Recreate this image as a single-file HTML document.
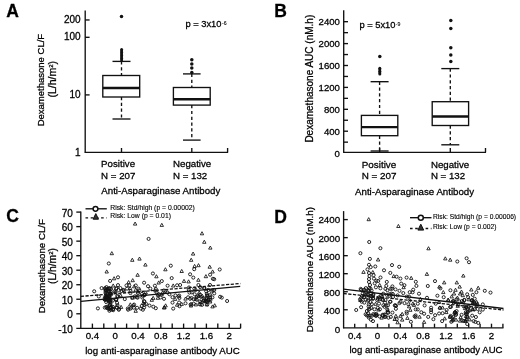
<!DOCTYPE html>
<html><head><meta charset="utf-8"><style>
html,body{margin:0;padding:0;background:#fff;width:520px;height:359px;overflow:hidden}
svg{display:block;will-change:transform}
text{font-family:"Liberation Sans", sans-serif;fill:#000;stroke:#000;stroke-width:0.28px}
</style></head><body>
<svg width="520" height="359" viewBox="0 0 520 359">
<text x="6.2" y="16.5" font-size="17.5" text-anchor="start" font-weight="bold">A</text>
<text x="274.3" y="16.5" font-size="17.5" text-anchor="start" font-weight="bold">B</text>
<text x="6.2" y="221.5" font-size="17.5" text-anchor="start" font-weight="bold">C</text>
<text x="274.3" y="223.4" font-size="17.5" text-anchor="start" font-weight="bold">D</text>
<line x1="85.2" y1="10.4" x2="85.2" y2="152.8" stroke="#111" stroke-width="1.35"/>
<line x1="84.7" y1="152.3" x2="228.1" y2="152.3" stroke="#111" stroke-width="1.35"/>
<line x1="227.6" y1="152.3" x2="227.6" y2="148" stroke="#111" stroke-width="1.35"/>
<text x="80.6" y="155.5" font-size="10" text-anchor="end" font-weight="normal">1</text>
<line x1="85.2" y1="94.9" x2="89.6" y2="94.9" stroke="#111" stroke-width="1.35"/>
<text x="80.6" y="97.9" font-size="10" text-anchor="end" font-weight="normal">10</text>
<line x1="85.2" y1="37.3" x2="89.6" y2="37.3" stroke="#111" stroke-width="1.35"/>
<text x="80.6" y="40.3" font-size="10" text-anchor="end" font-weight="normal">100</text>
<line x1="85.2" y1="19.96067224975468" x2="89.6" y2="19.96067224975468" stroke="#111" stroke-width="1.35"/>
<text x="80.6" y="22.96067224975468" font-size="10" text-anchor="end" font-weight="normal">200</text>
<line x1="121.5" y1="152.3" x2="121.5" y2="148" stroke="#111" stroke-width="1.35"/>
<line x1="191.8" y1="152.3" x2="191.8" y2="148" stroke="#111" stroke-width="1.35"/>
<rect x="102.8" y="75.5" width="36.89999999999999" height="21.5" fill="none" stroke="#111" stroke-width="1.35"/>
<line x1="102.8" y1="88.0" x2="139.7" y2="88.0" stroke="#111" stroke-width="2.4"/>
<line x1="121.5" y1="61.4" x2="121.5" y2="75.5" stroke="#111" stroke-width="1.35" stroke-dasharray="3.2,2.6"/>
<line x1="121.5" y1="97.0" x2="121.5" y2="119.0" stroke="#111" stroke-width="1.35" stroke-dasharray="3.2,2.6"/>
<line x1="112.5" y1="61.4" x2="130.5" y2="61.4" stroke="#111" stroke-width="1.35"/>
<line x1="112.5" y1="119.0" x2="130.5" y2="119.0" stroke="#111" stroke-width="1.35"/>
<circle cx="121.5" cy="16.6" r="1.75" fill="#111"/>
<circle cx="121.6" cy="49.5" r="1.5" fill="#111"/>
<circle cx="121.6" cy="51" r="1.5" fill="#111"/>
<circle cx="121.6" cy="52.5" r="1.5" fill="#111"/>
<circle cx="121.6" cy="54" r="1.5" fill="#111"/>
<circle cx="121.6" cy="55.5" r="1.5" fill="#111"/>
<circle cx="121.6" cy="57" r="1.5" fill="#111"/>
<circle cx="121.6" cy="58.5" r="1.5" fill="#111"/>
<circle cx="121.6" cy="60" r="1.5" fill="#111"/>
<rect x="173.4" y="87.5" width="36.79999999999998" height="17.599999999999994" fill="none" stroke="#111" stroke-width="1.35"/>
<line x1="173.4" y1="99.3" x2="210.2" y2="99.3" stroke="#111" stroke-width="2.4"/>
<line x1="191.8" y1="73.9" x2="191.8" y2="87.5" stroke="#111" stroke-width="1.35" stroke-dasharray="3.2,2.6"/>
<line x1="191.8" y1="105.1" x2="191.8" y2="140.1" stroke="#111" stroke-width="1.35" stroke-dasharray="3.2,2.6"/>
<line x1="183.0" y1="73.9" x2="200.60000000000002" y2="73.9" stroke="#111" stroke-width="1.35"/>
<line x1="183.0" y1="140.1" x2="200.60000000000002" y2="140.1" stroke="#111" stroke-width="1.35"/>
<circle cx="191.8" cy="59.7" r="1.75" fill="#111"/>
<circle cx="191.8" cy="63.9" r="1.75" fill="#111"/>
<circle cx="191.8" cy="68.1" r="1.75" fill="#111"/>
<circle cx="191.8" cy="72.4" r="1.75" fill="#111"/>
<text x="185.4" y="27.4" font-size="9.35" text-anchor="start" font-weight="normal">p = 3x10</text>
<text x="222.0" y="25.0" font-size="5.2" text-anchor="start" font-weight="normal" style="stroke-width:0.1px">-6</text>
<text x="101.1" y="167.2" font-size="9.7" text-anchor="start" font-weight="normal">Positive</text>
<text x="101.1" y="178.7" font-size="9.7" text-anchor="start" font-weight="normal">N = 207</text>
<text x="173.0" y="167.2" font-size="9.7" text-anchor="start" font-weight="normal">Negative</text>
<text x="173.0" y="178.7" font-size="9.7" text-anchor="start" font-weight="normal">N = 132</text>
<text x="160.8" y="194.3" font-size="9.7" text-anchor="middle" font-weight="normal">Anti-Asparaginase Antibody</text>
<text transform="translate(44.3,80.1) rotate(-90)" font-size="9.5" text-anchor="middle">Dexamethasone CL/F</text>
<text transform="translate(56.0,79.3) rotate(-90)" font-size="10.5" text-anchor="middle">(L/h/m<tspan font-size="6" dy="-3.5">2</tspan><tspan dy="3.5">)</tspan></text>
<line x1="343.7" y1="10.2" x2="343.7" y2="152.8" stroke="#111" stroke-width="1.35"/>
<line x1="343.2" y1="152.3" x2="486" y2="152.3" stroke="#111" stroke-width="1.35"/>
<line x1="485.5" y1="152.3" x2="485.5" y2="148" stroke="#111" stroke-width="1.35"/>
<text x="339.9" y="156.5" font-size="9.6" text-anchor="end" font-weight="normal">0</text>
<line x1="343.7" y1="142.15" x2="348" y2="142.15" stroke="#111" stroke-width="1.35"/>
<line x1="343.7" y1="131.2" x2="348" y2="131.2" stroke="#111" stroke-width="1.35"/>
<text x="339.9" y="134.6" font-size="9.6" text-anchor="end" font-weight="normal">400</text>
<line x1="343.7" y1="120.25" x2="348" y2="120.25" stroke="#111" stroke-width="1.35"/>
<line x1="343.7" y1="109.3" x2="348" y2="109.3" stroke="#111" stroke-width="1.35"/>
<text x="339.9" y="112.7" font-size="9.6" text-anchor="end" font-weight="normal">800</text>
<line x1="343.7" y1="98.35" x2="348" y2="98.35" stroke="#111" stroke-width="1.35"/>
<line x1="343.7" y1="87.39999999999999" x2="348" y2="87.39999999999999" stroke="#111" stroke-width="1.35"/>
<text x="339.9" y="90.8" font-size="9.6" text-anchor="end" font-weight="normal">1200</text>
<line x1="343.7" y1="76.45" x2="348" y2="76.45" stroke="#111" stroke-width="1.35"/>
<line x1="343.7" y1="65.5" x2="348" y2="65.5" stroke="#111" stroke-width="1.35"/>
<text x="339.9" y="68.9" font-size="9.6" text-anchor="end" font-weight="normal">1600</text>
<line x1="343.7" y1="54.55" x2="348" y2="54.55" stroke="#111" stroke-width="1.35"/>
<line x1="343.7" y1="43.599999999999994" x2="348" y2="43.599999999999994" stroke="#111" stroke-width="1.35"/>
<text x="339.9" y="46.99999999999999" font-size="9.6" text-anchor="end" font-weight="normal">2000</text>
<line x1="343.7" y1="32.64999999999999" x2="348" y2="32.64999999999999" stroke="#111" stroke-width="1.35"/>
<line x1="343.7" y1="21.69999999999999" x2="348" y2="21.69999999999999" stroke="#111" stroke-width="1.35"/>
<text x="339.9" y="25.099999999999987" font-size="9.6" text-anchor="end" font-weight="normal">2400</text>
<line x1="379.6" y1="152.3" x2="379.6" y2="148" stroke="#111" stroke-width="1.35"/>
<line x1="450.3" y1="152.3" x2="450.3" y2="148" stroke="#111" stroke-width="1.35"/>
<rect x="361.4" y="115.4" width="36.400000000000034" height="20.299999999999983" fill="none" stroke="#111" stroke-width="1.35"/>
<line x1="361.4" y1="127.1" x2="397.8" y2="127.1" stroke="#111" stroke-width="2.4"/>
<line x1="379.6" y1="81.7" x2="379.6" y2="115.4" stroke="#111" stroke-width="1.35" stroke-dasharray="3.2,2.6"/>
<line x1="379.6" y1="135.7" x2="379.6" y2="151.0" stroke="#111" stroke-width="1.35" stroke-dasharray="3.2,2.6"/>
<line x1="370.6" y1="81.7" x2="388.6" y2="81.7" stroke="#111" stroke-width="1.35"/>
<line x1="370.6" y1="151.0" x2="388.6" y2="151.0" stroke="#111" stroke-width="1.35"/>
<circle cx="379.8" cy="56.6" r="1.75" fill="#111"/>
<circle cx="379.8" cy="68.3" r="1.5" fill="#111"/>
<circle cx="379.8" cy="69.8" r="1.5" fill="#111"/>
<circle cx="379.8" cy="71.3" r="1.5" fill="#111"/>
<circle cx="379.8" cy="72.8" r="1.5" fill="#111"/>
<circle cx="379.8" cy="74" r="1.5" fill="#111"/>
<rect x="432.2" y="101.7" width="36.400000000000034" height="23.799999999999997" fill="none" stroke="#111" stroke-width="1.35"/>
<line x1="432.2" y1="116.5" x2="468.6" y2="116.5" stroke="#111" stroke-width="2.4"/>
<line x1="450.3" y1="68.6" x2="450.3" y2="101.7" stroke="#111" stroke-width="1.35" stroke-dasharray="3.2,2.6"/>
<line x1="450.3" y1="125.5" x2="450.3" y2="144.8" stroke="#111" stroke-width="1.35" stroke-dasharray="3.2,2.6"/>
<line x1="441.3" y1="68.6" x2="459.3" y2="68.6" stroke="#111" stroke-width="1.35"/>
<line x1="441.3" y1="144.8" x2="459.3" y2="144.8" stroke="#111" stroke-width="1.35"/>
<circle cx="450.8" cy="20.5" r="1.75" fill="#111"/>
<circle cx="450.8" cy="28.5" r="1.75" fill="#111"/>
<circle cx="450.8" cy="47.8" r="1.75" fill="#111"/>
<circle cx="450.8" cy="55.1" r="1.75" fill="#111"/>
<circle cx="450.8" cy="61.6" r="1.75" fill="#111"/>
<text x="359.4" y="28.0" font-size="9.35" text-anchor="start" font-weight="normal">p = 5x10</text>
<text x="395.7" y="25.6" font-size="5.2" text-anchor="start" font-weight="normal" style="stroke-width:0.1px">-9</text>
<text x="361.7" y="167.6" font-size="9.9" text-anchor="start" font-weight="normal">Positive</text>
<text x="361.7" y="178.9" font-size="9.9" text-anchor="start" font-weight="normal">N = 207</text>
<text x="430.9" y="167.6" font-size="9.7" text-anchor="start" font-weight="normal">Negative</text>
<text x="430.9" y="178.9" font-size="9.7" text-anchor="start" font-weight="normal">N = 132</text>
<text x="414.6" y="194.8" font-size="9.7" text-anchor="middle" font-weight="normal">Anti-Asparaginase Antibody</text>
<text transform="translate(313.3,78.7) rotate(-90)" font-size="10" text-anchor="middle">Dexamethasone AUC (nM.h)</text>
<line x1="80.8" y1="211.6" x2="80.8" y2="328.8" stroke="#111" stroke-width="1.35"/>
<line x1="76.3" y1="328.3" x2="240.6" y2="328.3" stroke="#111" stroke-width="1.35"/>
<line x1="92.4" y1="328.3" x2="92.4" y2="323.6" stroke="#111" stroke-width="1.35"/>
<line x1="103.8" y1="328.3" x2="103.8" y2="323.6" stroke="#111" stroke-width="1.35"/>
<line x1="115.2" y1="328.3" x2="115.2" y2="323.6" stroke="#111" stroke-width="1.35"/>
<line x1="126.60000000000001" y1="328.3" x2="126.60000000000001" y2="323.6" stroke="#111" stroke-width="1.35"/>
<line x1="138.0" y1="328.3" x2="138.0" y2="323.6" stroke="#111" stroke-width="1.35"/>
<line x1="149.4" y1="328.3" x2="149.4" y2="323.6" stroke="#111" stroke-width="1.35"/>
<line x1="160.8" y1="328.3" x2="160.8" y2="323.6" stroke="#111" stroke-width="1.35"/>
<line x1="172.2" y1="328.3" x2="172.2" y2="323.6" stroke="#111" stroke-width="1.35"/>
<line x1="183.60000000000002" y1="328.3" x2="183.60000000000002" y2="323.6" stroke="#111" stroke-width="1.35"/>
<line x1="195.0" y1="328.3" x2="195.0" y2="323.6" stroke="#111" stroke-width="1.35"/>
<line x1="206.4" y1="328.3" x2="206.4" y2="323.6" stroke="#111" stroke-width="1.35"/>
<line x1="217.8" y1="328.3" x2="217.8" y2="323.6" stroke="#111" stroke-width="1.35"/>
<line x1="229.2" y1="328.3" x2="229.2" y2="323.6" stroke="#111" stroke-width="1.35"/>
<line x1="240.60000000000002" y1="328.3" x2="240.60000000000002" y2="323.6" stroke="#111" stroke-width="1.35"/>
<text x="92.4" y="339.3" font-size="9.7" text-anchor="middle" font-weight="normal">0.4</text>
<text x="115.2" y="339.3" font-size="9.7" text-anchor="middle" font-weight="normal">0</text>
<text x="138.0" y="339.3" font-size="9.7" text-anchor="middle" font-weight="normal">0.4</text>
<text x="160.8" y="339.3" font-size="9.7" text-anchor="middle" font-weight="normal">0.8</text>
<text x="183.6" y="339.3" font-size="9.7" text-anchor="middle" font-weight="normal">1.2</text>
<text x="206.4" y="339.3" font-size="9.7" text-anchor="middle" font-weight="normal">1.6</text>
<text x="229.2" y="339.3" font-size="9.7" text-anchor="middle" font-weight="normal">2</text>
<text x="72.8" y="332.58000000000004" font-size="10" text-anchor="end" font-weight="normal">-10</text>
<line x1="76.3" y1="313.775" x2="80.8" y2="313.775" stroke="#111" stroke-width="1.35"/>
<text x="72.8" y="318.07000000000005" font-size="10" text-anchor="end" font-weight="normal">0</text>
<line x1="76.3" y1="299.25" x2="80.8" y2="299.25" stroke="#111" stroke-width="1.35"/>
<text x="72.8" y="303.56000000000006" font-size="10" text-anchor="end" font-weight="normal">10</text>
<line x1="76.3" y1="284.725" x2="80.8" y2="284.725" stroke="#111" stroke-width="1.35"/>
<text x="72.8" y="289.05" font-size="10" text-anchor="end" font-weight="normal">20</text>
<line x1="76.3" y1="270.2" x2="80.8" y2="270.2" stroke="#111" stroke-width="1.35"/>
<text x="72.8" y="274.54" font-size="10" text-anchor="end" font-weight="normal">30</text>
<line x1="76.3" y1="255.67499999999998" x2="80.8" y2="255.67499999999998" stroke="#111" stroke-width="1.35"/>
<text x="72.8" y="260.03000000000003" font-size="10" text-anchor="end" font-weight="normal">40</text>
<line x1="76.3" y1="241.14999999999998" x2="80.8" y2="241.14999999999998" stroke="#111" stroke-width="1.35"/>
<text x="72.8" y="245.52" font-size="10" text-anchor="end" font-weight="normal">50</text>
<line x1="76.3" y1="226.625" x2="80.8" y2="226.625" stroke="#111" stroke-width="1.35"/>
<text x="72.8" y="231.01" font-size="10" text-anchor="end" font-weight="normal">60</text>
<line x1="76.3" y1="212.1" x2="80.8" y2="212.1" stroke="#111" stroke-width="1.35"/>
<text x="72.8" y="216.5" font-size="10" text-anchor="end" font-weight="normal">70</text>
<text x="162.5" y="353.5" font-size="9.7" text-anchor="middle" font-weight="normal">log anti-asparaginase antibody AUC</text>
<text transform="translate(44.7,266.2) rotate(-90)" font-size="9.7" text-anchor="middle">Dexamethasone CL/F</text>
<text transform="translate(56.2,266) rotate(-90)" font-size="10.3" text-anchor="middle">(L/h/m<tspan font-size="6" dy="-3.5">2</tspan><tspan dy="3.5">)</tspan></text>
<path d="M135.1,222.0L136.8,225.1L133.4,225.1Z" fill="none" stroke="#111" stroke-width="0.85"/>
<circle cx="148.6" cy="238.9" r="1.55" fill="none" stroke="#111" stroke-width="0.9"/>
<path d="M111.8,251.6L113.5,254.7L110.1,254.7Z" fill="none" stroke="#111" stroke-width="0.85"/>
<path d="M132.3,258.2L134.0,261.3L130.6,261.3Z" fill="none" stroke="#111" stroke-width="0.85"/>
<path d="M139.5,257.0L141.2,260.1L137.8,260.1Z" fill="none" stroke="#111" stroke-width="0.85"/>
<circle cx="108.8" cy="263.5" r="1.55" fill="none" stroke="#111" stroke-width="0.9"/>
<path d="M145.4,263.0L147.1,266.1L143.7,266.1Z" fill="none" stroke="#111" stroke-width="0.85"/>
<path d="M161.8,223.3L163.5,226.4L160.1,226.4Z" fill="none" stroke="#111" stroke-width="0.85"/>
<path d="M202.0,231.7L203.7,234.8L200.3,234.8Z" fill="none" stroke="#111" stroke-width="0.85"/>
<path d="M204.3,240.2L206.0,243.3L202.6,243.3Z" fill="none" stroke="#111" stroke-width="0.85"/>
<path d="M210.3,246.0L212.0,249.1L208.6,249.1Z" fill="none" stroke="#111" stroke-width="0.85"/>
<path d="M193.1,252.0L194.8,255.1L191.4,255.1Z" fill="none" stroke="#111" stroke-width="0.85"/>
<path d="M191.2,258.2L192.9,261.3L189.5,261.3Z" fill="none" stroke="#111" stroke-width="0.85"/>
<circle cx="170.8" cy="265.7" r="1.55" fill="none" stroke="#111" stroke-width="0.9"/>
<path d="M194.6,264.4L196.3,267.5L192.9,267.5Z" fill="none" stroke="#111" stroke-width="0.85"/>
<path d="M198.5,263.6L200.2,266.7L196.8,266.7Z" fill="none" stroke="#111" stroke-width="0.85"/>
<path d="M209.7,265.1L211.4,268.2L208.0,268.2Z" fill="none" stroke="#111" stroke-width="0.85"/>
<circle cx="219.7" cy="269.5" r="1.55" fill="none" stroke="#111" stroke-width="0.9"/>
<path d="M165.4,267.7L167.1,270.8L163.7,270.8Z" fill="none" stroke="#111" stroke-width="0.85"/>
<path d="M106.7,269.9L108.4,273.0L105.0,273.0Z" fill="none" stroke="#111" stroke-width="0.85"/>
<path d="M114.1,276.7L115.8,279.8L112.4,279.8Z" fill="none" stroke="#111" stroke-width="0.85"/>
<circle cx="118.0" cy="277.3" r="1.55" fill="none" stroke="#111" stroke-width="0.9"/>
<circle cx="110.1" cy="280.9" r="1.55" fill="none" stroke="#111" stroke-width="0.9"/>
<path d="M128.6,280.5L130.3,283.6L126.9,283.6Z" fill="none" stroke="#111" stroke-width="0.85"/>
<path d="M113.2,283.9L114.9,287.0L111.5,287.0Z" fill="none" stroke="#111" stroke-width="0.85"/>
<circle cx="101.6" cy="288.1" r="1.55" fill="none" stroke="#111" stroke-width="0.9"/>
<circle cx="94.2" cy="291.3" r="1.55" fill="none" stroke="#111" stroke-width="0.9"/>
<circle cx="108.8" cy="288.6" r="1.55" fill="none" stroke="#111" stroke-width="0.9"/>
<circle cx="120.4" cy="288.1" r="1.55" fill="none" stroke="#111" stroke-width="0.9"/>
<circle cx="127.1" cy="288.6" r="1.55" fill="none" stroke="#111" stroke-width="0.9"/>
<circle cx="98.8" cy="296.5" r="1.55" fill="none" stroke="#111" stroke-width="0.9"/>
<circle cx="97.9" cy="308.4" r="1.55" fill="none" stroke="#111" stroke-width="0.9"/>
<circle cx="113.2" cy="308.8" r="1.55" fill="none" stroke="#111" stroke-width="0.9"/>
<circle cx="194.2" cy="269.2" r="1.55" fill="none" stroke="#111" stroke-width="0.9"/>
<path d="M212.6,269.9L214.3,273.0L210.9,273.0Z" fill="none" stroke="#111" stroke-width="0.85"/>
<circle cx="210.1" cy="274.7" r="1.55" fill="none" stroke="#111" stroke-width="0.9"/>
<path d="M205.9,274.6L207.6,277.7L204.2,277.7Z" fill="none" stroke="#111" stroke-width="0.85"/>
<circle cx="193.3" cy="277.6" r="1.55" fill="none" stroke="#111" stroke-width="0.9"/>
<circle cx="214.2" cy="279.2" r="1.55" fill="none" stroke="#111" stroke-width="0.9"/>
<path d="M198.4,278.2L200.1,281.3L196.7,281.3Z" fill="none" stroke="#111" stroke-width="0.85"/>
<circle cx="198.4" cy="285.0" r="1.55" fill="none" stroke="#111" stroke-width="0.9"/>
<circle cx="210.0" cy="285.0" r="1.55" fill="none" stroke="#111" stroke-width="0.9"/>
<circle cx="214.2" cy="290.0" r="1.55" fill="none" stroke="#111" stroke-width="0.9"/>
<circle cx="214.2" cy="293.4" r="1.55" fill="none" stroke="#111" stroke-width="0.9"/>
<circle cx="220.1" cy="296.8" r="1.55" fill="none" stroke="#111" stroke-width="0.9"/>
<circle cx="221.8" cy="297.6" r="1.55" fill="none" stroke="#111" stroke-width="0.9"/>
<circle cx="227.1" cy="301.0" r="1.55" fill="none" stroke="#111" stroke-width="0.9"/>
<path d="M214.7,303.7L216.4,306.8L213.0,306.8Z" fill="none" stroke="#111" stroke-width="0.85"/>
<path d="M181.7,269.4L183.4,272.5L180.0,272.5Z" fill="none" stroke="#111" stroke-width="0.85"/>
<circle cx="152.9" cy="273.5" r="1.55" fill="none" stroke="#111" stroke-width="0.9"/>
<path d="M137.6,273.2L139.3,276.3L135.9,276.3Z" fill="none" stroke="#111" stroke-width="0.85"/>
<path d="M156.4,274.7L158.1,277.8L154.7,277.8Z" fill="none" stroke="#111" stroke-width="0.85"/>
<circle cx="190.1" cy="274.3" r="1.55" fill="none" stroke="#111" stroke-width="0.9"/>
<circle cx="171.7" cy="278.1" r="1.55" fill="none" stroke="#111" stroke-width="0.9"/>
<path d="M132.7,278.6L134.4,281.7L131.0,281.7Z" fill="none" stroke="#111" stroke-width="0.85"/>
<circle cx="144.1" cy="282.7" r="1.55" fill="none" stroke="#111" stroke-width="0.9"/>
<circle cx="161.8" cy="281.1" r="1.55" fill="none" stroke="#111" stroke-width="0.9"/>
<path d="M158.7,280.9L160.4,284.0L157.0,284.0Z" fill="none" stroke="#111" stroke-width="0.85"/>
<path d="M184.0,279.3L185.7,282.4L182.3,282.4Z" fill="none" stroke="#111" stroke-width="0.85"/>
<path d="M188.6,279.8L190.3,282.9L186.9,282.9Z" fill="none" stroke="#111" stroke-width="0.85"/>
<circle cx="148.0" cy="286.2" r="1.55" fill="none" stroke="#111" stroke-width="0.9"/>
<circle cx="154.9" cy="285.7" r="1.55" fill="none" stroke="#111" stroke-width="0.9"/>
<circle cx="167.6" cy="285.7" r="1.55" fill="none" stroke="#111" stroke-width="0.9"/>
<path d="M173.2,283.9L174.9,287.0L171.5,287.0Z" fill="none" stroke="#111" stroke-width="0.85"/>
<circle cx="177.1" cy="285.3" r="1.55" fill="none" stroke="#111" stroke-width="0.9"/>
<circle cx="180.1" cy="285.0" r="1.55" fill="none" stroke="#111" stroke-width="0.9"/>
<path d="M134.2,284.7L135.9,287.8L132.5,287.8Z" fill="none" stroke="#111" stroke-width="0.85"/>
<path d="M135.7,288.1L137.4,291.2L134.0,291.2Z" fill="none" stroke="#111" stroke-width="0.85"/>
<circle cx="144.9" cy="294.9" r="1.55" fill="none" stroke="#111" stroke-width="0.9"/>
<circle cx="158.7" cy="294.2" r="1.55" fill="none" stroke="#111" stroke-width="0.9"/>
<circle cx="162.5" cy="293.4" r="1.55" fill="none" stroke="#111" stroke-width="0.9"/>
<circle cx="169.4" cy="294.2" r="1.55" fill="none" stroke="#111" stroke-width="0.9"/>
<path d="M151.8,298.2L153.5,301.3L150.1,301.3Z" fill="none" stroke="#111" stroke-width="0.85"/>
<path d="M157.9,296.2L159.6,299.3L156.2,299.3Z" fill="none" stroke="#111" stroke-width="0.85"/>
<circle cx="164.0" cy="298.8" r="1.55" fill="none" stroke="#111" stroke-width="0.9"/>
<circle cx="172.5" cy="297.2" r="1.55" fill="none" stroke="#111" stroke-width="0.9"/>
<circle cx="175.5" cy="295.4" r="1.55" fill="none" stroke="#111" stroke-width="0.9"/>
<circle cx="179.4" cy="298.0" r="1.55" fill="none" stroke="#111" stroke-width="0.9"/>
<path d="M185.5,297.0L187.2,300.1L183.8,300.1Z" fill="none" stroke="#111" stroke-width="0.85"/>
<circle cx="190.1" cy="298.8" r="1.55" fill="none" stroke="#111" stroke-width="0.9"/>
<circle cx="172.5" cy="302.6" r="1.55" fill="none" stroke="#111" stroke-width="0.9"/>
<path d="M177.1,303.1L178.8,306.2L175.4,306.2Z" fill="none" stroke="#111" stroke-width="0.85"/>
<path d="M181.7,302.3L183.4,305.4L180.0,305.4Z" fill="none" stroke="#111" stroke-width="0.85"/>
<circle cx="185.5" cy="303.3" r="1.55" fill="none" stroke="#111" stroke-width="0.9"/>
<path d="M165.6,303.8L167.3,306.9L163.9,306.9Z" fill="none" stroke="#111" stroke-width="0.85"/>
<path d="M164.0,305.8L165.7,308.9L162.3,308.9Z" fill="none" stroke="#111" stroke-width="0.85"/>
<circle cx="146.4" cy="304.1" r="1.55" fill="none" stroke="#111" stroke-width="0.9"/>
<circle cx="149.5" cy="305.6" r="1.55" fill="none" stroke="#111" stroke-width="0.9"/>
<circle cx="153.3" cy="306.7" r="1.55" fill="none" stroke="#111" stroke-width="0.9"/>
<circle cx="144.1" cy="307.6" r="1.55" fill="none" stroke="#111" stroke-width="0.9"/>
<path d="M135.7,309.2L137.4,312.3L134.0,312.3Z" fill="none" stroke="#111" stroke-width="0.85"/>
<circle cx="212.9" cy="278.8" r="1.55" fill="none" stroke="#111" stroke-width="0.9"/>
<circle cx="106.9" cy="290.6" r="1.55" fill="none" stroke="#111" stroke-width="0.9"/>
<circle cx="105.0" cy="299.9" r="1.55" fill="none" stroke="#111" stroke-width="0.9"/>
<path d="M104.9,297.4L106.6,300.5L103.2,300.5Z" fill="none" stroke="#111" stroke-width="0.85"/>
<path d="M107.8,286.9L109.5,290.0L106.1,290.0Z" fill="none" stroke="#111" stroke-width="0.85"/>
<circle cx="107.7" cy="306.8" r="1.55" fill="none" stroke="#111" stroke-width="0.9"/>
<circle cx="106.2" cy="302.1" r="1.55" fill="none" stroke="#111" stroke-width="0.9"/>
<circle cx="108.8" cy="296.5" r="1.55" fill="none" stroke="#111" stroke-width="0.9"/>
<circle cx="104.8" cy="307.6" r="1.55" fill="none" stroke="#111" stroke-width="0.9"/>
<circle cx="105.6" cy="289.8" r="1.55" fill="none" stroke="#111" stroke-width="0.9"/>
<circle cx="110.6" cy="291.3" r="1.55" fill="none" stroke="#111" stroke-width="0.9"/>
<circle cx="109.3" cy="295.9" r="1.55" fill="none" stroke="#111" stroke-width="0.9"/>
<circle cx="105.0" cy="288.4" r="1.55" fill="none" stroke="#111" stroke-width="0.9"/>
<circle cx="109.6" cy="297.3" r="1.55" fill="none" stroke="#111" stroke-width="0.9"/>
<circle cx="108.9" cy="297.9" r="1.55" fill="none" stroke="#111" stroke-width="0.9"/>
<circle cx="110.5" cy="303.8" r="1.55" fill="none" stroke="#111" stroke-width="0.9"/>
<circle cx="108.8" cy="299.6" r="1.55" fill="none" stroke="#111" stroke-width="0.9"/>
<circle cx="110.0" cy="293.9" r="1.55" fill="none" stroke="#111" stroke-width="0.9"/>
<circle cx="105.4" cy="297.0" r="1.55" fill="none" stroke="#111" stroke-width="0.9"/>
<path d="M105.6,297.0L107.3,300.0L103.9,300.0Z" fill="none" stroke="#111" stroke-width="0.85"/>
<circle cx="109.5" cy="305.3" r="1.55" fill="none" stroke="#111" stroke-width="0.9"/>
<circle cx="111.1" cy="294.5" r="1.55" fill="none" stroke="#111" stroke-width="0.9"/>
<circle cx="109.0" cy="300.9" r="1.55" fill="none" stroke="#111" stroke-width="0.9"/>
<circle cx="110.8" cy="309.7" r="1.55" fill="none" stroke="#111" stroke-width="0.9"/>
<circle cx="109.5" cy="288.5" r="1.55" fill="none" stroke="#111" stroke-width="0.9"/>
<circle cx="109.4" cy="310.8" r="1.55" fill="none" stroke="#111" stroke-width="0.9"/>
<circle cx="106.6" cy="296.3" r="1.55" fill="none" stroke="#111" stroke-width="0.9"/>
<circle cx="104.7" cy="298.1" r="1.55" fill="none" stroke="#111" stroke-width="0.9"/>
<circle cx="105.4" cy="288.4" r="1.55" fill="none" stroke="#111" stroke-width="0.9"/>
<circle cx="105.5" cy="292.9" r="1.55" fill="none" stroke="#111" stroke-width="0.9"/>
<circle cx="111.0" cy="288.9" r="1.55" fill="none" stroke="#111" stroke-width="0.9"/>
<circle cx="108.6" cy="308.2" r="1.55" fill="none" stroke="#111" stroke-width="0.9"/>
<circle cx="111.0" cy="293.7" r="1.55" fill="none" stroke="#111" stroke-width="0.9"/>
<circle cx="107.2" cy="308.2" r="1.55" fill="none" stroke="#111" stroke-width="0.9"/>
<circle cx="105.6" cy="291.2" r="1.55" fill="none" stroke="#111" stroke-width="0.9"/>
<circle cx="106.3" cy="298.6" r="1.55" fill="none" stroke="#111" stroke-width="0.9"/>
<circle cx="106.5" cy="287.1" r="1.55" fill="none" stroke="#111" stroke-width="0.9"/>
<circle cx="107.3" cy="300.6" r="1.55" fill="none" stroke="#111" stroke-width="0.9"/>
<circle cx="109.7" cy="299.4" r="1.55" fill="none" stroke="#111" stroke-width="0.9"/>
<circle cx="109.6" cy="288.3" r="1.55" fill="none" stroke="#111" stroke-width="0.9"/>
<circle cx="110.3" cy="308.0" r="1.55" fill="none" stroke="#111" stroke-width="0.9"/>
<circle cx="107.7" cy="298.0" r="1.55" fill="none" stroke="#111" stroke-width="0.9"/>
<circle cx="109.0" cy="291.2" r="1.55" fill="none" stroke="#111" stroke-width="0.9"/>
<circle cx="106.6" cy="293.2" r="1.55" fill="none" stroke="#111" stroke-width="0.9"/>
<circle cx="105.8" cy="290.0" r="1.55" fill="none" stroke="#111" stroke-width="0.9"/>
<path d="M106.1,295.5L107.8,298.5L104.4,298.5Z" fill="none" stroke="#111" stroke-width="0.85"/>
<circle cx="110.3" cy="302.3" r="1.55" fill="none" stroke="#111" stroke-width="0.9"/>
<circle cx="106.9" cy="296.9" r="1.55" fill="none" stroke="#111" stroke-width="0.9"/>
<circle cx="106.2" cy="307.0" r="1.55" fill="none" stroke="#111" stroke-width="0.9"/>
<circle cx="108.1" cy="299.7" r="1.55" fill="none" stroke="#111" stroke-width="0.9"/>
<circle cx="106.1" cy="296.9" r="1.55" fill="none" stroke="#111" stroke-width="0.9"/>
<path d="M110.1,291.4L111.8,294.5L108.4,294.5Z" fill="none" stroke="#111" stroke-width="0.85"/>
<circle cx="110.7" cy="300.6" r="1.55" fill="none" stroke="#111" stroke-width="0.9"/>
<circle cx="108.5" cy="290.5" r="1.55" fill="none" stroke="#111" stroke-width="0.9"/>
<circle cx="110.9" cy="307.3" r="1.55" fill="none" stroke="#111" stroke-width="0.9"/>
<circle cx="106.9" cy="297.3" r="1.55" fill="none" stroke="#111" stroke-width="0.9"/>
<circle cx="109.7" cy="300.7" r="1.55" fill="none" stroke="#111" stroke-width="0.9"/>
<circle cx="107.3" cy="294.5" r="1.55" fill="none" stroke="#111" stroke-width="0.9"/>
<circle cx="110.9" cy="307.1" r="1.55" fill="none" stroke="#111" stroke-width="0.9"/>
<circle cx="110.0" cy="304.8" r="1.55" fill="none" stroke="#111" stroke-width="0.9"/>
<path d="M108.3,295.3L110.0,298.4L106.6,298.4Z" fill="none" stroke="#111" stroke-width="0.85"/>
<circle cx="105.7" cy="295.6" r="1.55" fill="none" stroke="#111" stroke-width="0.9"/>
<circle cx="109.3" cy="309.1" r="1.55" fill="none" stroke="#111" stroke-width="0.9"/>
<circle cx="142.9" cy="309.7" r="1.55" fill="none" stroke="#111" stroke-width="0.9"/>
<circle cx="124.0" cy="290.5" r="1.55" fill="none" stroke="#111" stroke-width="0.9"/>
<circle cx="118.5" cy="290.1" r="1.55" fill="none" stroke="#111" stroke-width="0.9"/>
<circle cx="141.7" cy="306.0" r="1.55" fill="none" stroke="#111" stroke-width="0.9"/>
<path d="M133.5,303.2L135.2,306.3L131.8,306.3Z" fill="none" stroke="#111" stroke-width="0.85"/>
<circle cx="133.8" cy="307.7" r="1.55" fill="none" stroke="#111" stroke-width="0.9"/>
<path d="M136.8,295.2L138.5,298.2L135.1,298.2Z" fill="none" stroke="#111" stroke-width="0.85"/>
<circle cx="138.0" cy="293.3" r="1.55" fill="none" stroke="#111" stroke-width="0.9"/>
<circle cx="144.1" cy="294.9" r="1.55" fill="none" stroke="#111" stroke-width="0.9"/>
<path d="M143.2,301.3L144.9,304.4L141.5,304.4Z" fill="none" stroke="#111" stroke-width="0.85"/>
<circle cx="116.2" cy="288.8" r="1.55" fill="none" stroke="#111" stroke-width="0.9"/>
<circle cx="138.6" cy="288.7" r="1.55" fill="none" stroke="#111" stroke-width="0.9"/>
<circle cx="144.4" cy="301.4" r="1.55" fill="none" stroke="#111" stroke-width="0.9"/>
<path d="M130.1,286.5L131.8,289.5L128.4,289.5Z" fill="none" stroke="#111" stroke-width="0.85"/>
<circle cx="144.0" cy="301.2" r="1.55" fill="none" stroke="#111" stroke-width="0.9"/>
<circle cx="142.8" cy="295.8" r="1.55" fill="none" stroke="#111" stroke-width="0.9"/>
<circle cx="139.3" cy="290.3" r="1.55" fill="none" stroke="#111" stroke-width="0.9"/>
<circle cx="121.7" cy="291.0" r="1.55" fill="none" stroke="#111" stroke-width="0.9"/>
<path d="M120.6,293.7L122.3,296.8L118.9,296.8Z" fill="none" stroke="#111" stroke-width="0.85"/>
<circle cx="142.0" cy="293.8" r="1.55" fill="none" stroke="#111" stroke-width="0.9"/>
<circle cx="131.3" cy="307.6" r="1.55" fill="none" stroke="#111" stroke-width="0.9"/>
<circle cx="142.3" cy="297.5" r="1.55" fill="none" stroke="#111" stroke-width="0.9"/>
<circle cx="129.3" cy="285.5" r="1.55" fill="none" stroke="#111" stroke-width="0.9"/>
<circle cx="118.0" cy="285.1" r="1.55" fill="none" stroke="#111" stroke-width="0.9"/>
<circle cx="117.7" cy="296.8" r="1.55" fill="none" stroke="#111" stroke-width="0.9"/>
<circle cx="130.4" cy="293.1" r="1.55" fill="none" stroke="#111" stroke-width="0.9"/>
<path d="M130.3,302.8L132.0,305.9L128.6,305.9Z" fill="none" stroke="#111" stroke-width="0.85"/>
<circle cx="130.5" cy="291.2" r="1.55" fill="none" stroke="#111" stroke-width="0.9"/>
<circle cx="137.5" cy="297.7" r="1.55" fill="none" stroke="#111" stroke-width="0.9"/>
<circle cx="137.1" cy="307.8" r="1.55" fill="none" stroke="#111" stroke-width="0.9"/>
<circle cx="132.2" cy="297.6" r="1.55" fill="none" stroke="#111" stroke-width="0.9"/>
<circle cx="134.9" cy="296.3" r="1.55" fill="none" stroke="#111" stroke-width="0.9"/>
<circle cx="127.8" cy="308.5" r="1.55" fill="none" stroke="#111" stroke-width="0.9"/>
<circle cx="140.9" cy="308.6" r="1.55" fill="none" stroke="#111" stroke-width="0.9"/>
<circle cx="130.5" cy="308.6" r="1.55" fill="none" stroke="#111" stroke-width="0.9"/>
<circle cx="116.5" cy="288.0" r="1.55" fill="none" stroke="#111" stroke-width="0.9"/>
<path d="M114.4,289.2L116.1,292.3L112.7,292.3Z" fill="none" stroke="#111" stroke-width="0.85"/>
<circle cx="134.1" cy="304.6" r="1.55" fill="none" stroke="#111" stroke-width="0.9"/>
<circle cx="117.1" cy="302.9" r="1.55" fill="none" stroke="#111" stroke-width="0.9"/>
<circle cx="116.7" cy="307.1" r="1.55" fill="none" stroke="#111" stroke-width="0.9"/>
<circle cx="119.2" cy="308.8" r="1.55" fill="none" stroke="#111" stroke-width="0.9"/>
<circle cx="128.1" cy="309.7" r="1.55" fill="none" stroke="#111" stroke-width="0.9"/>
<circle cx="117.3" cy="295.8" r="1.55" fill="none" stroke="#111" stroke-width="0.9"/>
<circle cx="123.2" cy="289.9" r="1.55" fill="none" stroke="#111" stroke-width="0.9"/>
<circle cx="135.8" cy="285.5" r="1.55" fill="none" stroke="#111" stroke-width="0.9"/>
<circle cx="126.5" cy="285.5" r="1.55" fill="none" stroke="#111" stroke-width="0.9"/>
<path d="M132.6,296.0L134.3,299.1L130.9,299.1Z" fill="none" stroke="#111" stroke-width="0.85"/>
<circle cx="144.5" cy="304.7" r="1.55" fill="none" stroke="#111" stroke-width="0.9"/>
<path d="M115.5,289.9L117.2,292.9L113.8,292.9Z" fill="none" stroke="#111" stroke-width="0.85"/>
<path d="M137.7,290.0L139.4,293.0L136.0,293.0Z" fill="none" stroke="#111" stroke-width="0.85"/>
<circle cx="118.8" cy="309.8" r="1.55" fill="none" stroke="#111" stroke-width="0.9"/>
<circle cx="116.1" cy="299.9" r="1.55" fill="none" stroke="#111" stroke-width="0.9"/>
<path d="M121.1,305.3L122.8,308.4L119.4,308.4Z" fill="none" stroke="#111" stroke-width="0.85"/>
<circle cx="112.9" cy="306.9" r="1.55" fill="none" stroke="#111" stroke-width="0.9"/>
<circle cx="113.2" cy="310.2" r="1.55" fill="none" stroke="#111" stroke-width="0.9"/>
<circle cx="124.8" cy="299.1" r="1.55" fill="none" stroke="#111" stroke-width="0.9"/>
<circle cx="113.1" cy="309.2" r="1.55" fill="none" stroke="#111" stroke-width="0.9"/>
<circle cx="117.4" cy="305.2" r="1.55" fill="none" stroke="#111" stroke-width="0.9"/>
<circle cx="116.3" cy="299.7" r="1.55" fill="none" stroke="#111" stroke-width="0.9"/>
<circle cx="115.8" cy="299.4" r="1.55" fill="none" stroke="#111" stroke-width="0.9"/>
<circle cx="112.8" cy="300.6" r="1.55" fill="none" stroke="#111" stroke-width="0.9"/>
<circle cx="116.9" cy="307.9" r="1.55" fill="none" stroke="#111" stroke-width="0.9"/>
<circle cx="165.5" cy="290.9" r="1.55" fill="none" stroke="#111" stroke-width="0.9"/>
<path d="M145.7,290.7L147.4,293.8L144.0,293.8Z" fill="none" stroke="#111" stroke-width="0.85"/>
<path d="M175.1,297.3L176.8,300.4L173.4,300.4Z" fill="none" stroke="#111" stroke-width="0.85"/>
<path d="M164.5,305.8L166.2,308.8L162.8,308.8Z" fill="none" stroke="#111" stroke-width="0.85"/>
<circle cx="178.6" cy="296.5" r="1.55" fill="none" stroke="#111" stroke-width="0.9"/>
<circle cx="179.2" cy="295.6" r="1.55" fill="none" stroke="#111" stroke-width="0.9"/>
<circle cx="173.2" cy="308.6" r="1.55" fill="none" stroke="#111" stroke-width="0.9"/>
<circle cx="179.1" cy="302.5" r="1.55" fill="none" stroke="#111" stroke-width="0.9"/>
<path d="M161.6,292.9L163.3,295.9L159.9,295.9Z" fill="none" stroke="#111" stroke-width="0.85"/>
<circle cx="150.3" cy="288.6" r="1.55" fill="none" stroke="#111" stroke-width="0.9"/>
<path d="M155.5,288.8L157.2,291.9L153.8,291.9Z" fill="none" stroke="#111" stroke-width="0.85"/>
<circle cx="179.5" cy="306.2" r="1.55" fill="none" stroke="#111" stroke-width="0.9"/>
<circle cx="156.6" cy="292.3" r="1.55" fill="none" stroke="#111" stroke-width="0.9"/>
<circle cx="163.8" cy="290.5" r="1.55" fill="none" stroke="#111" stroke-width="0.9"/>
<circle cx="155.8" cy="308.2" r="1.55" fill="none" stroke="#111" stroke-width="0.9"/>
<circle cx="167.4" cy="292.4" r="1.55" fill="none" stroke="#111" stroke-width="0.9"/>
<path d="M157.7,293.1L159.4,296.1L156.0,296.1Z" fill="none" stroke="#111" stroke-width="0.85"/>
<circle cx="160.6" cy="297.4" r="1.55" fill="none" stroke="#111" stroke-width="0.9"/>
<path d="M153.2,296.3L154.9,299.4L151.5,299.4Z" fill="none" stroke="#111" stroke-width="0.85"/>
<circle cx="155.8" cy="289.0" r="1.55" fill="none" stroke="#111" stroke-width="0.9"/>
<circle cx="189.0" cy="287.5" r="1.55" fill="none" stroke="#111" stroke-width="0.9"/>
<circle cx="193.8" cy="299.3" r="1.55" fill="none" stroke="#111" stroke-width="0.9"/>
<circle cx="206.8" cy="300.8" r="1.55" fill="none" stroke="#111" stroke-width="0.9"/>
<circle cx="210.0" cy="295.2" r="1.55" fill="none" stroke="#111" stroke-width="0.9"/>
<circle cx="212.6" cy="290.1" r="1.55" fill="none" stroke="#111" stroke-width="0.9"/>
<circle cx="204.1" cy="287.9" r="1.55" fill="none" stroke="#111" stroke-width="0.9"/>
<circle cx="210.3" cy="300.2" r="1.55" fill="none" stroke="#111" stroke-width="0.9"/>
<circle cx="208.3" cy="289.9" r="1.55" fill="none" stroke="#111" stroke-width="0.9"/>
<circle cx="200.6" cy="304.5" r="1.55" fill="none" stroke="#111" stroke-width="0.9"/>
<circle cx="208.7" cy="299.3" r="1.55" fill="none" stroke="#111" stroke-width="0.9"/>
<path d="M205.1,299.8L206.8,302.8L203.4,302.8Z" fill="none" stroke="#111" stroke-width="0.85"/>
<circle cx="188.8" cy="289.8" r="1.55" fill="none" stroke="#111" stroke-width="0.9"/>
<circle cx="190.6" cy="304.6" r="1.55" fill="none" stroke="#111" stroke-width="0.9"/>
<circle cx="203.7" cy="300.2" r="1.55" fill="none" stroke="#111" stroke-width="0.9"/>
<circle cx="200.2" cy="287.1" r="1.55" fill="none" stroke="#111" stroke-width="0.9"/>
<circle cx="206.7" cy="297.6" r="1.55" fill="none" stroke="#111" stroke-width="0.9"/>
<circle cx="204.5" cy="288.4" r="1.55" fill="none" stroke="#111" stroke-width="0.9"/>
<circle cx="194.3" cy="288.6" r="1.55" fill="none" stroke="#111" stroke-width="0.9"/>
<circle cx="206.2" cy="291.3" r="1.55" fill="none" stroke="#111" stroke-width="0.9"/>
<circle cx="212.4" cy="297.4" r="1.55" fill="none" stroke="#111" stroke-width="0.9"/>
<circle cx="200.0" cy="301.4" r="1.55" fill="none" stroke="#111" stroke-width="0.9"/>
<path d="M203.4,298.7L205.1,301.8L201.7,301.8Z" fill="none" stroke="#111" stroke-width="0.85"/>
<circle cx="191.7" cy="292.3" r="1.55" fill="none" stroke="#111" stroke-width="0.9"/>
<path d="M195.6,297.1L197.3,300.2L193.9,300.2Z" fill="none" stroke="#111" stroke-width="0.85"/>
<circle cx="189.5" cy="292.6" r="1.55" fill="none" stroke="#111" stroke-width="0.9"/>
<circle cx="205.3" cy="301.2" r="1.55" fill="none" stroke="#111" stroke-width="0.9"/>
<circle cx="200.9" cy="296.8" r="1.55" fill="none" stroke="#111" stroke-width="0.9"/>
<path d="M191.0,304.0L192.7,307.0L189.3,307.0Z" fill="none" stroke="#111" stroke-width="0.85"/>
<path d="M212.5,304.9L214.2,307.9L210.8,307.9Z" fill="none" stroke="#111" stroke-width="0.85"/>
<circle cx="199.5" cy="304.2" r="1.55" fill="none" stroke="#111" stroke-width="0.9"/>
<path d="M199.2,290.9L200.9,293.9L197.5,293.9Z" fill="none" stroke="#111" stroke-width="0.85"/>
<circle cx="211.6" cy="291.4" r="1.55" fill="none" stroke="#111" stroke-width="0.9"/>
<circle cx="191.5" cy="298.0" r="1.55" fill="none" stroke="#111" stroke-width="0.9"/>
<circle cx="191.3" cy="304.2" r="1.55" fill="none" stroke="#111" stroke-width="0.9"/>
<path d="M210.2,300.0L211.9,303.0L208.5,303.0Z" fill="none" stroke="#111" stroke-width="0.85"/>
<path d="M210.4,295.4L212.1,298.5L208.7,298.5Z" fill="none" stroke="#111" stroke-width="0.85"/>
<circle cx="188.1" cy="297.3" r="1.55" fill="none" stroke="#111" stroke-width="0.9"/>
<circle cx="195.5" cy="290.0" r="1.55" fill="none" stroke="#111" stroke-width="0.9"/>
<path d="M195.9,302.9L197.6,305.9L194.2,305.9Z" fill="none" stroke="#111" stroke-width="0.85"/>
<path d="M206.8,302.8L208.5,305.9L205.1,305.9Z" fill="none" stroke="#111" stroke-width="0.85"/>
<circle cx="206.8" cy="302.0" r="1.55" fill="none" stroke="#111" stroke-width="0.9"/>
<circle cx="196.6" cy="297.2" r="1.55" fill="none" stroke="#111" stroke-width="0.9"/>
<circle cx="208.0" cy="300.2" r="1.55" fill="none" stroke="#111" stroke-width="0.9"/>
<path d="M198.8,294.1L200.5,297.1L197.1,297.1Z" fill="none" stroke="#111" stroke-width="0.85"/>
<circle cx="193.6" cy="303.7" r="1.55" fill="none" stroke="#111" stroke-width="0.9"/>
<circle cx="207.0" cy="295.5" r="1.55" fill="none" stroke="#111" stroke-width="0.9"/>
<circle cx="200.2" cy="294.7" r="1.55" fill="none" stroke="#111" stroke-width="0.9"/>
<circle cx="207.3" cy="304.4" r="1.55" fill="none" stroke="#111" stroke-width="0.9"/>
<circle cx="202.1" cy="304.8" r="1.55" fill="none" stroke="#111" stroke-width="0.9"/>
<path d="M200.8,300.3L202.5,303.3L199.1,303.3Z" fill="none" stroke="#111" stroke-width="0.85"/>
<circle cx="203.7" cy="298.3" r="1.55" fill="none" stroke="#111" stroke-width="0.9"/>
<path d="M202.3,294.2L204.0,297.3L200.6,297.3Z" fill="none" stroke="#111" stroke-width="0.85"/>
<circle cx="206.8" cy="293.8" r="1.55" fill="none" stroke="#111" stroke-width="0.9"/>
<circle cx="197.5" cy="296.2" r="1.55" fill="none" stroke="#111" stroke-width="0.9"/>
<circle cx="207.6" cy="295.6" r="1.55" fill="none" stroke="#111" stroke-width="0.9"/>
<circle cx="196.8" cy="299.8" r="1.55" fill="none" stroke="#111" stroke-width="0.9"/>
<circle cx="194.7" cy="294.3" r="1.55" fill="none" stroke="#111" stroke-width="0.9"/>
<circle cx="206.5" cy="299.0" r="1.55" fill="none" stroke="#111" stroke-width="0.9"/>
<line x1="80.8" y1="301.3" x2="240.2" y2="286.4" stroke="#111" stroke-width="1.3"/>
<line x1="80.8" y1="296.4" x2="240.4" y2="283.5" stroke="#111" stroke-width="1.3" stroke-dasharray="3.2,1.5"/>
<line x1="85.5" y1="208.8" x2="106.8" y2="208.8" stroke="#111" stroke-width="1.35"/>
<circle cx="95.5" cy="208.8" r="2.4" fill="white" stroke="#111" stroke-width="1.5"/>
<line x1="85.5" y1="217.8" x2="106.8" y2="217.8" stroke="#111" stroke-width="1.35" stroke-dasharray="2.6,2.6"/>
<path d="M95.8,213.6 L98.5,219.2 L93.1,219.2 Z" fill="#333" stroke="#111" stroke-width="1"/>
<text x="110.3" y="209.9" font-size="6.8" text-anchor="start" font-weight="normal" style="stroke-width:0.12px">Risk: Std/high (p = 0.00002)</text>
<text x="110.3" y="217.6" font-size="6.8" text-anchor="start" font-weight="normal" style="stroke-width:0.12px">Risk: Low (p = 0.01)</text>
<line x1="343.6" y1="211.1" x2="343.6" y2="328.3" stroke="#111" stroke-width="1.35"/>
<line x1="343.1" y1="327.8" x2="503.5" y2="327.8" stroke="#111" stroke-width="1.35"/>
<line x1="354.7" y1="327.8" x2="354.7" y2="323.7" stroke="#111" stroke-width="1.35"/>
<line x1="366.1" y1="327.8" x2="366.1" y2="323.7" stroke="#111" stroke-width="1.35"/>
<line x1="377.5" y1="327.8" x2="377.5" y2="323.7" stroke="#111" stroke-width="1.35"/>
<line x1="388.9" y1="327.8" x2="388.9" y2="323.7" stroke="#111" stroke-width="1.35"/>
<line x1="400.3" y1="327.8" x2="400.3" y2="323.7" stroke="#111" stroke-width="1.35"/>
<line x1="411.7" y1="327.8" x2="411.7" y2="323.7" stroke="#111" stroke-width="1.35"/>
<line x1="423.1" y1="327.8" x2="423.1" y2="323.7" stroke="#111" stroke-width="1.35"/>
<line x1="434.5" y1="327.8" x2="434.5" y2="323.7" stroke="#111" stroke-width="1.35"/>
<line x1="445.9" y1="327.8" x2="445.9" y2="323.7" stroke="#111" stroke-width="1.35"/>
<line x1="457.3" y1="327.8" x2="457.3" y2="323.7" stroke="#111" stroke-width="1.35"/>
<line x1="468.7" y1="327.8" x2="468.7" y2="323.7" stroke="#111" stroke-width="1.35"/>
<line x1="480.1" y1="327.8" x2="480.1" y2="323.7" stroke="#111" stroke-width="1.35"/>
<line x1="491.5" y1="327.8" x2="491.5" y2="323.7" stroke="#111" stroke-width="1.35"/>
<line x1="502.9" y1="327.8" x2="502.9" y2="323.7" stroke="#111" stroke-width="1.35"/>
<text x="354.7" y="339.4" font-size="9.7" text-anchor="middle" font-weight="normal">0.4</text>
<text x="377.5" y="339.4" font-size="9.7" text-anchor="middle" font-weight="normal">0</text>
<text x="400.3" y="339.4" font-size="9.7" text-anchor="middle" font-weight="normal">0.4</text>
<text x="423.1" y="339.4" font-size="9.7" text-anchor="middle" font-weight="normal">0.8</text>
<text x="445.9" y="339.4" font-size="9.7" text-anchor="middle" font-weight="normal">1.2</text>
<text x="468.7" y="339.4" font-size="9.7" text-anchor="middle" font-weight="normal">1.6</text>
<text x="491.5" y="339.4" font-size="9.7" text-anchor="middle" font-weight="normal">2</text>
<text x="340.2" y="332.5" font-size="9.8" text-anchor="end" font-weight="normal">0</text>
<line x1="343.6" y1="309.76666666666665" x2="347.8" y2="309.76666666666665" stroke="#111" stroke-width="1.35"/>
<text x="340.2" y="314.325" font-size="9.8" text-anchor="end" font-weight="normal">400</text>
<line x1="343.6" y1="291.73333333333335" x2="347.8" y2="291.73333333333335" stroke="#111" stroke-width="1.35"/>
<text x="340.2" y="296.15" font-size="9.8" text-anchor="end" font-weight="normal">800</text>
<line x1="343.6" y1="273.7" x2="347.8" y2="273.7" stroke="#111" stroke-width="1.35"/>
<text x="340.2" y="277.975" font-size="9.8" text-anchor="end" font-weight="normal">1200</text>
<line x1="343.6" y1="255.66666666666669" x2="347.8" y2="255.66666666666669" stroke="#111" stroke-width="1.35"/>
<text x="340.2" y="259.8" font-size="9.8" text-anchor="end" font-weight="normal">1600</text>
<line x1="343.6" y1="237.63333333333333" x2="347.8" y2="237.63333333333333" stroke="#111" stroke-width="1.35"/>
<text x="340.2" y="241.625" font-size="9.8" text-anchor="end" font-weight="normal">2000</text>
<line x1="343.6" y1="219.60000000000002" x2="347.8" y2="219.60000000000002" stroke="#111" stroke-width="1.35"/>
<text x="340.2" y="223.45" font-size="9.8" text-anchor="end" font-weight="normal">2400</text>
<text x="426" y="353.4" font-size="9.6" text-anchor="middle" font-weight="normal">log anti-asparaginase antibody AUC</text>
<text transform="translate(313.3,269.6) rotate(-90)" font-size="9.8" text-anchor="middle">Dexamethasone AUC (nM.h)</text>
<path d="M368.7,217.6L370.4,220.7L367.0,220.7Z" fill="none" stroke="#111" stroke-width="0.85"/>
<path d="M398.4,224.4L400.1,227.5L396.7,227.5Z" fill="none" stroke="#111" stroke-width="0.85"/>
<circle cx="369.2" cy="242.0" r="1.55" fill="none" stroke="#111" stroke-width="0.9"/>
<circle cx="380.4" cy="248.2" r="1.55" fill="none" stroke="#111" stroke-width="0.9"/>
<circle cx="360.4" cy="253.2" r="1.55" fill="none" stroke="#111" stroke-width="0.9"/>
<circle cx="369.9" cy="258.9" r="1.55" fill="none" stroke="#111" stroke-width="0.9"/>
<path d="M378.1,257.9L379.8,261.0L376.4,261.0Z" fill="none" stroke="#111" stroke-width="0.85"/>
<path d="M428.5,246.7L430.2,249.8L426.8,249.8Z" fill="none" stroke="#111" stroke-width="0.85"/>
<path d="M445.3,256.8L447.0,259.9L443.6,259.9Z" fill="none" stroke="#111" stroke-width="0.85"/>
<path d="M450.2,258.1L451.9,261.2L448.5,261.2Z" fill="none" stroke="#111" stroke-width="0.85"/>
<circle cx="457.3" cy="261.5" r="1.55" fill="none" stroke="#111" stroke-width="0.9"/>
<circle cx="466.6" cy="258.3" r="1.55" fill="none" stroke="#111" stroke-width="0.9"/>
<circle cx="469.0" cy="262.2" r="1.55" fill="none" stroke="#111" stroke-width="0.9"/>
<path d="M426.9,272.3L428.6,275.4L425.2,275.4Z" fill="none" stroke="#111" stroke-width="0.85"/>
<path d="M463.3,274.0L465.0,277.1L461.6,277.1Z" fill="none" stroke="#111" stroke-width="0.85"/>
<circle cx="435.0" cy="281.1" r="1.55" fill="none" stroke="#111" stroke-width="0.9"/>
<path d="M444.2,280.8L445.9,283.9L442.5,283.9Z" fill="none" stroke="#111" stroke-width="0.85"/>
<path d="M456.8,280.8L458.5,283.9L455.1,283.9Z" fill="none" stroke="#111" stroke-width="0.85"/>
<circle cx="369.0" cy="264.8" r="1.55" fill="none" stroke="#111" stroke-width="0.9"/>
<circle cx="370.7" cy="267.1" r="1.55" fill="none" stroke="#111" stroke-width="0.9"/>
<circle cx="367.5" cy="269.4" r="1.55" fill="none" stroke="#111" stroke-width="0.9"/>
<circle cx="375.3" cy="266.5" r="1.55" fill="none" stroke="#111" stroke-width="0.9"/>
<path d="M363.5,270.3L365.2,273.4L361.8,273.4Z" fill="none" stroke="#111" stroke-width="0.85"/>
<circle cx="384.0" cy="270.3" r="1.55" fill="none" stroke="#111" stroke-width="0.9"/>
<circle cx="392.0" cy="265.1" r="1.55" fill="none" stroke="#111" stroke-width="0.9"/>
<circle cx="399.2" cy="266.8" r="1.55" fill="none" stroke="#111" stroke-width="0.9"/>
<circle cx="390.3" cy="272.9" r="1.55" fill="none" stroke="#111" stroke-width="0.9"/>
<path d="M393.7,274.5L395.4,277.6L392.0,277.6Z" fill="none" stroke="#111" stroke-width="0.85"/>
<circle cx="396.6" cy="276.7" r="1.55" fill="none" stroke="#111" stroke-width="0.9"/>
<circle cx="400.4" cy="278.6" r="1.55" fill="none" stroke="#111" stroke-width="0.9"/>
<circle cx="369.0" cy="273.0" r="1.55" fill="none" stroke="#111" stroke-width="0.9"/>
<circle cx="369.5" cy="276.0" r="1.55" fill="none" stroke="#111" stroke-width="0.9"/>
<circle cx="369.0" cy="279.0" r="1.55" fill="none" stroke="#111" stroke-width="0.9"/>
<circle cx="369.0" cy="282.0" r="1.55" fill="none" stroke="#111" stroke-width="0.9"/>
<circle cx="370.0" cy="285.0" r="1.55" fill="none" stroke="#111" stroke-width="0.9"/>
<circle cx="369.0" cy="288.0" r="1.55" fill="none" stroke="#111" stroke-width="0.9"/>
<path d="M372.8,270.5L374.5,273.6L371.1,273.6Z" fill="none" stroke="#111" stroke-width="0.85"/>
<circle cx="373.6" cy="275.2" r="1.55" fill="none" stroke="#111" stroke-width="0.9"/>
<circle cx="373.9" cy="278.6" r="1.55" fill="none" stroke="#111" stroke-width="0.9"/>
<circle cx="380.5" cy="277.5" r="1.55" fill="none" stroke="#111" stroke-width="0.9"/>
<circle cx="378.2" cy="281.0" r="1.55" fill="none" stroke="#111" stroke-width="0.9"/>
<circle cx="374.7" cy="283.3" r="1.55" fill="none" stroke="#111" stroke-width="0.9"/>
<path d="M379.7,283.4L381.4,286.5L378.0,286.5Z" fill="none" stroke="#111" stroke-width="0.85"/>
<circle cx="375.9" cy="287.3" r="1.55" fill="none" stroke="#111" stroke-width="0.9"/>
<circle cx="386.8" cy="281.9" r="1.55" fill="none" stroke="#111" stroke-width="0.9"/>
<circle cx="386.3" cy="285.9" r="1.55" fill="none" stroke="#111" stroke-width="0.9"/>
<circle cx="392.4" cy="286.4" r="1.55" fill="none" stroke="#111" stroke-width="0.9"/>
<circle cx="395.5" cy="289.4" r="1.55" fill="none" stroke="#111" stroke-width="0.9"/>
<circle cx="399.5" cy="290.8" r="1.55" fill="none" stroke="#111" stroke-width="0.9"/>
<circle cx="401.2" cy="283.6" r="1.55" fill="none" stroke="#111" stroke-width="0.9"/>
<circle cx="387.4" cy="290.2" r="1.55" fill="none" stroke="#111" stroke-width="0.9"/>
<circle cx="356.2" cy="310.0" r="1.55" fill="none" stroke="#111" stroke-width="0.9"/>
<circle cx="361.1" cy="307.2" r="1.55" fill="none" stroke="#111" stroke-width="0.9"/>
<path d="M360.4,298.4L362.1,301.5L358.7,301.5Z" fill="none" stroke="#111" stroke-width="0.85"/>
<circle cx="368.8" cy="317.6" r="1.55" fill="none" stroke="#111" stroke-width="0.9"/>
<circle cx="370.9" cy="319.7" r="1.55" fill="none" stroke="#111" stroke-width="0.9"/>
<circle cx="373.0" cy="321.1" r="1.55" fill="none" stroke="#111" stroke-width="0.9"/>
<circle cx="376.4" cy="280.7" r="1.55" fill="none" stroke="#111" stroke-width="0.9"/>
<circle cx="406.6" cy="277.6" r="1.55" fill="none" stroke="#111" stroke-width="0.9"/>
<path d="M411.2,276.3L412.9,279.4L409.5,279.4Z" fill="none" stroke="#111" stroke-width="0.85"/>
<circle cx="415.8" cy="281.8" r="1.55" fill="none" stroke="#111" stroke-width="0.9"/>
<path d="M403.6,285.6L405.3,288.7L401.9,288.7Z" fill="none" stroke="#111" stroke-width="0.85"/>
<circle cx="427.8" cy="286.0" r="1.55" fill="none" stroke="#111" stroke-width="0.9"/>
<path d="M439.4,285.0L441.1,288.1L437.7,288.1Z" fill="none" stroke="#111" stroke-width="0.85"/>
<circle cx="450.4" cy="290.3" r="1.55" fill="none" stroke="#111" stroke-width="0.9"/>
<circle cx="413.2" cy="289.7" r="1.55" fill="none" stroke="#111" stroke-width="0.9"/>
<circle cx="409.7" cy="292.2" r="1.55" fill="none" stroke="#111" stroke-width="0.9"/>
<circle cx="437.4" cy="295.7" r="1.55" fill="none" stroke="#111" stroke-width="0.9"/>
<circle cx="443.7" cy="297.2" r="1.55" fill="none" stroke="#111" stroke-width="0.9"/>
<circle cx="427.0" cy="297.8" r="1.55" fill="none" stroke="#111" stroke-width="0.9"/>
<circle cx="397.6" cy="295.4" r="1.55" fill="none" stroke="#111" stroke-width="0.9"/>
<circle cx="406.8" cy="296.6" r="1.55" fill="none" stroke="#111" stroke-width="0.9"/>
<circle cx="409.1" cy="296.6" r="1.55" fill="none" stroke="#111" stroke-width="0.9"/>
<path d="M459.7,285.0L461.4,288.1L458.0,288.1Z" fill="none" stroke="#111" stroke-width="0.85"/>
<path d="M455.5,288.2L457.2,291.3L453.8,291.3Z" fill="none" stroke="#111" stroke-width="0.85"/>
<path d="M461.5,290.0L463.2,293.1L459.8,293.1Z" fill="none" stroke="#111" stroke-width="0.85"/>
<path d="M471.3,287.9L473.0,291.0L469.6,291.0Z" fill="none" stroke="#111" stroke-width="0.85"/>
<path d="M478.2,286.2L479.9,289.3L476.5,289.3Z" fill="none" stroke="#111" stroke-width="0.85"/>
<circle cx="476.4" cy="292.2" r="1.55" fill="none" stroke="#111" stroke-width="0.9"/>
<circle cx="484.8" cy="290.8" r="1.55" fill="none" stroke="#111" stroke-width="0.9"/>
<circle cx="490.5" cy="292.6" r="1.55" fill="none" stroke="#111" stroke-width="0.9"/>
<path d="M454.0,291.9L455.7,295.0L452.3,295.0Z" fill="none" stroke="#111" stroke-width="0.85"/>
<path d="M460.1,291.9L461.8,295.0L458.4,295.0Z" fill="none" stroke="#111" stroke-width="0.85"/>
<path d="M462.8,293.6L464.5,296.7L461.1,296.7Z" fill="none" stroke="#111" stroke-width="0.85"/>
<circle cx="467.2" cy="294.3" r="1.55" fill="none" stroke="#111" stroke-width="0.9"/>
<circle cx="472.8" cy="294.9" r="1.55" fill="none" stroke="#111" stroke-width="0.9"/>
<circle cx="468.1" cy="297.2" r="1.55" fill="none" stroke="#111" stroke-width="0.9"/>
<path d="M451.7,294.8L453.4,297.9L450.0,297.9Z" fill="none" stroke="#111" stroke-width="0.85"/>
<path d="M457.4,296.0L459.1,299.1L455.7,299.1Z" fill="none" stroke="#111" stroke-width="0.85"/>
<circle cx="474.7" cy="298.7" r="1.55" fill="none" stroke="#111" stroke-width="0.9"/>
<path d="M448.4,298.4L450.1,301.5L446.7,301.5Z" fill="none" stroke="#111" stroke-width="0.85"/>
<circle cx="400.5" cy="301.9" r="1.55" fill="none" stroke="#111" stroke-width="0.9"/>
<circle cx="404.5" cy="303.1" r="1.55" fill="none" stroke="#111" stroke-width="0.9"/>
<path d="M414.0,303.3L415.7,306.4L412.3,306.4Z" fill="none" stroke="#111" stroke-width="0.85"/>
<circle cx="417.8" cy="303.7" r="1.55" fill="none" stroke="#111" stroke-width="0.9"/>
<circle cx="435.7" cy="303.7" r="1.55" fill="none" stroke="#111" stroke-width="0.9"/>
<circle cx="395.3" cy="305.4" r="1.55" fill="none" stroke="#111" stroke-width="0.9"/>
<path d="M409.1,304.7L410.8,307.8L407.4,307.8Z" fill="none" stroke="#111" stroke-width="0.85"/>
<circle cx="417.8" cy="309.4" r="1.55" fill="none" stroke="#111" stroke-width="0.9"/>
<path d="M410.3,308.2L412.0,311.3L408.6,311.3Z" fill="none" stroke="#111" stroke-width="0.85"/>
<circle cx="431.1" cy="307.7" r="1.55" fill="none" stroke="#111" stroke-width="0.9"/>
<circle cx="431.1" cy="310.0" r="1.55" fill="none" stroke="#111" stroke-width="0.9"/>
<circle cx="431.1" cy="312.3" r="1.55" fill="none" stroke="#111" stroke-width="0.9"/>
<path d="M439.7,305.9L441.4,309.0L438.0,309.0Z" fill="none" stroke="#111" stroke-width="0.85"/>
<path d="M442.6,305.9L444.3,309.0L440.9,309.0Z" fill="none" stroke="#111" stroke-width="0.85"/>
<circle cx="446.6" cy="310.0" r="1.55" fill="none" stroke="#111" stroke-width="0.9"/>
<path d="M446.3,310.5L448.0,313.6L444.6,313.6Z" fill="none" stroke="#111" stroke-width="0.85"/>
<circle cx="406.8" cy="313.5" r="1.55" fill="none" stroke="#111" stroke-width="0.9"/>
<circle cx="421.3" cy="312.3" r="1.55" fill="none" stroke="#111" stroke-width="0.9"/>
<circle cx="424.1" cy="313.7" r="1.55" fill="none" stroke="#111" stroke-width="0.9"/>
<circle cx="428.2" cy="316.9" r="1.55" fill="none" stroke="#111" stroke-width="0.9"/>
<circle cx="415.5" cy="317.1" r="1.55" fill="none" stroke="#111" stroke-width="0.9"/>
<path d="M419.5,315.1L421.2,318.2L417.8,318.2Z" fill="none" stroke="#111" stroke-width="0.85"/>
<circle cx="435.1" cy="315.2" r="1.55" fill="none" stroke="#111" stroke-width="0.9"/>
<circle cx="439.1" cy="313.5" r="1.55" fill="none" stroke="#111" stroke-width="0.9"/>
<circle cx="442.6" cy="313.2" r="1.55" fill="none" stroke="#111" stroke-width="0.9"/>
<circle cx="433.4" cy="319.2" r="1.55" fill="none" stroke="#111" stroke-width="0.9"/>
<path d="M444.7,316.8L446.4,319.9L443.0,319.9Z" fill="none" stroke="#111" stroke-width="0.85"/>
<path d="M400.5,314.2L402.2,317.3L398.8,317.3Z" fill="none" stroke="#111" stroke-width="0.85"/>
<path d="M402.2,318.0L403.9,321.1L400.5,321.1Z" fill="none" stroke="#111" stroke-width="0.85"/>
<path d="M407.4,316.3L409.1,319.4L405.7,319.4Z" fill="none" stroke="#111" stroke-width="0.85"/>
<circle cx="410.9" cy="321.8" r="1.55" fill="none" stroke="#111" stroke-width="0.9"/>
<path d="M397.6,320.7L399.3,323.8L395.9,323.8Z" fill="none" stroke="#111" stroke-width="0.85"/>
<path d="M394.7,317.4L396.4,320.5L393.0,320.5Z" fill="none" stroke="#111" stroke-width="0.85"/>
<path d="M424.1,320.3L425.8,323.4L422.4,323.4Z" fill="none" stroke="#111" stroke-width="0.85"/>
<circle cx="395.9" cy="308.8" r="1.55" fill="none" stroke="#111" stroke-width="0.9"/>
<circle cx="482.8" cy="304.4" r="1.55" fill="none" stroke="#111" stroke-width="0.9"/>
<circle cx="477.0" cy="305.6" r="1.55" fill="none" stroke="#111" stroke-width="0.9"/>
<circle cx="477.6" cy="309.0" r="1.55" fill="none" stroke="#111" stroke-width="0.9"/>
<circle cx="482.8" cy="309.6" r="1.55" fill="none" stroke="#111" stroke-width="0.9"/>
<circle cx="478.2" cy="322.9" r="1.55" fill="none" stroke="#111" stroke-width="0.9"/>
<circle cx="473.6" cy="321.1" r="1.55" fill="none" stroke="#111" stroke-width="0.9"/>
<path d="M465.5,319.3L467.2,322.4L463.8,322.4Z" fill="none" stroke="#111" stroke-width="0.85"/>
<circle cx="467.2" cy="324.0" r="1.55" fill="none" stroke="#111" stroke-width="0.9"/>
<circle cx="390.8" cy="316.9" r="1.55" fill="none" stroke="#111" stroke-width="0.9"/>
<path d="M364.7,291.8L366.4,294.9L363.0,294.9Z" fill="none" stroke="#111" stroke-width="0.85"/>
<circle cx="371.6" cy="290.6" r="1.55" fill="none" stroke="#111" stroke-width="0.9"/>
<circle cx="368.8" cy="304.5" r="1.55" fill="none" stroke="#111" stroke-width="0.9"/>
<circle cx="385.5" cy="300.0" r="1.55" fill="none" stroke="#111" stroke-width="0.9"/>
<circle cx="377.8" cy="298.9" r="1.55" fill="none" stroke="#111" stroke-width="0.9"/>
<circle cx="362.1" cy="296.0" r="1.55" fill="none" stroke="#111" stroke-width="0.9"/>
<circle cx="364.3" cy="302.6" r="1.55" fill="none" stroke="#111" stroke-width="0.9"/>
<circle cx="389.3" cy="294.3" r="1.55" fill="none" stroke="#111" stroke-width="0.9"/>
<circle cx="368.4" cy="299.6" r="1.55" fill="none" stroke="#111" stroke-width="0.9"/>
<circle cx="392.4" cy="312.6" r="1.55" fill="none" stroke="#111" stroke-width="0.9"/>
<circle cx="360.7" cy="288.9" r="1.55" fill="none" stroke="#111" stroke-width="0.9"/>
<circle cx="390.5" cy="301.7" r="1.55" fill="none" stroke="#111" stroke-width="0.9"/>
<circle cx="360.0" cy="299.4" r="1.55" fill="none" stroke="#111" stroke-width="0.9"/>
<circle cx="388.1" cy="312.8" r="1.55" fill="none" stroke="#111" stroke-width="0.9"/>
<circle cx="368.4" cy="291.2" r="1.55" fill="none" stroke="#111" stroke-width="0.9"/>
<circle cx="377.8" cy="307.8" r="1.55" fill="none" stroke="#111" stroke-width="0.9"/>
<circle cx="384.5" cy="306.8" r="1.55" fill="none" stroke="#111" stroke-width="0.9"/>
<path d="M375.5,302.2L377.2,305.3L373.8,305.3Z" fill="none" stroke="#111" stroke-width="0.85"/>
<circle cx="386.6" cy="294.7" r="1.55" fill="none" stroke="#111" stroke-width="0.9"/>
<circle cx="381.9" cy="296.8" r="1.55" fill="none" stroke="#111" stroke-width="0.9"/>
<circle cx="368.6" cy="306.5" r="1.55" fill="none" stroke="#111" stroke-width="0.9"/>
<circle cx="363.8" cy="290.0" r="1.55" fill="none" stroke="#111" stroke-width="0.9"/>
<circle cx="379.8" cy="299.3" r="1.55" fill="none" stroke="#111" stroke-width="0.9"/>
<circle cx="380.4" cy="288.3" r="1.55" fill="none" stroke="#111" stroke-width="0.9"/>
<circle cx="375.7" cy="315.8" r="1.55" fill="none" stroke="#111" stroke-width="0.9"/>
<circle cx="390.0" cy="301.8" r="1.55" fill="none" stroke="#111" stroke-width="0.9"/>
<circle cx="368.4" cy="315.9" r="1.55" fill="none" stroke="#111" stroke-width="0.9"/>
<circle cx="370.5" cy="288.6" r="1.55" fill="none" stroke="#111" stroke-width="0.9"/>
<circle cx="382.9" cy="300.2" r="1.55" fill="none" stroke="#111" stroke-width="0.9"/>
<circle cx="382.7" cy="314.8" r="1.55" fill="none" stroke="#111" stroke-width="0.9"/>
<circle cx="361.2" cy="297.8" r="1.55" fill="none" stroke="#111" stroke-width="0.9"/>
<circle cx="383.2" cy="293.7" r="1.55" fill="none" stroke="#111" stroke-width="0.9"/>
<circle cx="385.1" cy="302.6" r="1.55" fill="none" stroke="#111" stroke-width="0.9"/>
<circle cx="393.0" cy="297.0" r="1.55" fill="none" stroke="#111" stroke-width="0.9"/>
<circle cx="367.8" cy="294.4" r="1.55" fill="none" stroke="#111" stroke-width="0.9"/>
<circle cx="370.0" cy="315.6" r="1.55" fill="none" stroke="#111" stroke-width="0.9"/>
<circle cx="366.4" cy="294.5" r="1.55" fill="none" stroke="#111" stroke-width="0.9"/>
<circle cx="382.6" cy="315.5" r="1.55" fill="none" stroke="#111" stroke-width="0.9"/>
<circle cx="373.4" cy="294.2" r="1.55" fill="none" stroke="#111" stroke-width="0.9"/>
<path d="M364.8,287.7L366.5,290.8L363.1,290.8Z" fill="none" stroke="#111" stroke-width="0.85"/>
<circle cx="373.4" cy="314.0" r="1.55" fill="none" stroke="#111" stroke-width="0.9"/>
<circle cx="384.9" cy="316.9" r="1.55" fill="none" stroke="#111" stroke-width="0.9"/>
<circle cx="371.2" cy="293.4" r="1.55" fill="none" stroke="#111" stroke-width="0.9"/>
<circle cx="385.4" cy="288.9" r="1.55" fill="none" stroke="#111" stroke-width="0.9"/>
<circle cx="372.9" cy="298.8" r="1.55" fill="none" stroke="#111" stroke-width="0.9"/>
<circle cx="365.8" cy="288.1" r="1.55" fill="none" stroke="#111" stroke-width="0.9"/>
<circle cx="371.9" cy="315.7" r="1.55" fill="none" stroke="#111" stroke-width="0.9"/>
<circle cx="392.8" cy="294.0" r="1.55" fill="none" stroke="#111" stroke-width="0.9"/>
<circle cx="387.9" cy="311.8" r="1.55" fill="none" stroke="#111" stroke-width="0.9"/>
<circle cx="361.7" cy="301.7" r="1.55" fill="none" stroke="#111" stroke-width="0.9"/>
<circle cx="391.3" cy="293.6" r="1.55" fill="none" stroke="#111" stroke-width="0.9"/>
<circle cx="390.5" cy="288.9" r="1.55" fill="none" stroke="#111" stroke-width="0.9"/>
<path d="M387.6,308.4L389.3,311.5L385.9,311.5Z" fill="none" stroke="#111" stroke-width="0.85"/>
<circle cx="361.2" cy="289.8" r="1.55" fill="none" stroke="#111" stroke-width="0.9"/>
<circle cx="368.7" cy="309.7" r="1.55" fill="none" stroke="#111" stroke-width="0.9"/>
<circle cx="371.5" cy="295.9" r="1.55" fill="none" stroke="#111" stroke-width="0.9"/>
<circle cx="381.0" cy="295.6" r="1.55" fill="none" stroke="#111" stroke-width="0.9"/>
<path d="M370.8,294.2L372.5,297.3L369.1,297.3Z" fill="none" stroke="#111" stroke-width="0.85"/>
<circle cx="385.7" cy="314.6" r="1.55" fill="none" stroke="#111" stroke-width="0.9"/>
<circle cx="392.1" cy="288.7" r="1.55" fill="none" stroke="#111" stroke-width="0.9"/>
<circle cx="376.2" cy="315.7" r="1.55" fill="none" stroke="#111" stroke-width="0.9"/>
<circle cx="373.1" cy="295.3" r="1.55" fill="none" stroke="#111" stroke-width="0.9"/>
<circle cx="376.8" cy="314.9" r="1.55" fill="none" stroke="#111" stroke-width="0.9"/>
<circle cx="387.3" cy="309.4" r="1.55" fill="none" stroke="#111" stroke-width="0.9"/>
<circle cx="386.3" cy="305.6" r="1.55" fill="none" stroke="#111" stroke-width="0.9"/>
<circle cx="370.9" cy="298.5" r="1.55" fill="none" stroke="#111" stroke-width="0.9"/>
<circle cx="362.7" cy="293.7" r="1.55" fill="none" stroke="#111" stroke-width="0.9"/>
<path d="M368.4,288.1L370.1,291.2L366.7,291.2Z" fill="none" stroke="#111" stroke-width="0.85"/>
<circle cx="378.8" cy="297.4" r="1.55" fill="none" stroke="#111" stroke-width="0.9"/>
<circle cx="388.5" cy="317.7" r="1.55" fill="none" stroke="#111" stroke-width="0.9"/>
<circle cx="364.5" cy="297.2" r="1.55" fill="none" stroke="#111" stroke-width="0.9"/>
<circle cx="383.3" cy="305.3" r="1.55" fill="none" stroke="#111" stroke-width="0.9"/>
<circle cx="374.5" cy="309.3" r="1.55" fill="none" stroke="#111" stroke-width="0.9"/>
<circle cx="384.4" cy="314.5" r="1.55" fill="none" stroke="#111" stroke-width="0.9"/>
<circle cx="365.6" cy="314.3" r="1.55" fill="none" stroke="#111" stroke-width="0.9"/>
<circle cx="379.0" cy="303.6" r="1.55" fill="none" stroke="#111" stroke-width="0.9"/>
<circle cx="368.0" cy="300.7" r="1.55" fill="none" stroke="#111" stroke-width="0.9"/>
<circle cx="366.6" cy="315.3" r="1.55" fill="none" stroke="#111" stroke-width="0.9"/>
<circle cx="371.8" cy="304.1" r="1.55" fill="none" stroke="#111" stroke-width="0.9"/>
<circle cx="377.2" cy="300.3" r="1.55" fill="none" stroke="#111" stroke-width="0.9"/>
<path d="M381.6,316.0L383.3,319.1L379.9,319.1Z" fill="none" stroke="#111" stroke-width="0.85"/>
<circle cx="376.2" cy="313.8" r="1.55" fill="none" stroke="#111" stroke-width="0.9"/>
<circle cx="389.4" cy="295.9" r="1.55" fill="none" stroke="#111" stroke-width="0.9"/>
<circle cx="365.6" cy="299.4" r="1.55" fill="none" stroke="#111" stroke-width="0.9"/>
<circle cx="379.5" cy="316.4" r="1.55" fill="none" stroke="#111" stroke-width="0.9"/>
<circle cx="388.0" cy="305.3" r="1.55" fill="none" stroke="#111" stroke-width="0.9"/>
<path d="M385.3,315.0L387.0,318.0L383.6,318.0Z" fill="none" stroke="#111" stroke-width="0.85"/>
<circle cx="379.9" cy="309.3" r="1.55" fill="none" stroke="#111" stroke-width="0.9"/>
<circle cx="373.1" cy="298.3" r="1.55" fill="none" stroke="#111" stroke-width="0.9"/>
<circle cx="369.6" cy="308.8" r="1.55" fill="none" stroke="#111" stroke-width="0.9"/>
<circle cx="368.1" cy="295.3" r="1.55" fill="none" stroke="#111" stroke-width="0.9"/>
<circle cx="382.3" cy="299.3" r="1.55" fill="none" stroke="#111" stroke-width="0.9"/>
<circle cx="368.1" cy="313.3" r="1.55" fill="none" stroke="#111" stroke-width="0.9"/>
<circle cx="363.9" cy="297.3" r="1.55" fill="none" stroke="#111" stroke-width="0.9"/>
<path d="M378.5,307.9L380.2,311.0L376.8,311.0Z" fill="none" stroke="#111" stroke-width="0.85"/>
<circle cx="366.9" cy="311.0" r="1.55" fill="none" stroke="#111" stroke-width="0.9"/>
<circle cx="370.5" cy="302.1" r="1.55" fill="none" stroke="#111" stroke-width="0.9"/>
<circle cx="371.4" cy="308.0" r="1.55" fill="none" stroke="#111" stroke-width="0.9"/>
<circle cx="374.5" cy="314.9" r="1.55" fill="none" stroke="#111" stroke-width="0.9"/>
<circle cx="412.6" cy="292.3" r="1.55" fill="none" stroke="#111" stroke-width="0.9"/>
<circle cx="404.4" cy="285.2" r="1.55" fill="none" stroke="#111" stroke-width="0.9"/>
<circle cx="415.6" cy="315.4" r="1.55" fill="none" stroke="#111" stroke-width="0.9"/>
<path d="M439.0,300.3L440.7,303.3L437.3,303.3Z" fill="none" stroke="#111" stroke-width="0.85"/>
<circle cx="394.8" cy="305.4" r="1.55" fill="none" stroke="#111" stroke-width="0.9"/>
<circle cx="440.4" cy="288.3" r="1.55" fill="none" stroke="#111" stroke-width="0.9"/>
<path d="M412.9,301.9L414.6,304.9L411.2,304.9Z" fill="none" stroke="#111" stroke-width="0.85"/>
<circle cx="408.4" cy="304.3" r="1.55" fill="none" stroke="#111" stroke-width="0.9"/>
<circle cx="399.5" cy="303.1" r="1.55" fill="none" stroke="#111" stroke-width="0.9"/>
<path d="M443.3,290.5L445.0,293.6L441.6,293.6Z" fill="none" stroke="#111" stroke-width="0.85"/>
<circle cx="442.1" cy="321.1" r="1.55" fill="none" stroke="#111" stroke-width="0.9"/>
<circle cx="396.7" cy="319.3" r="1.55" fill="none" stroke="#111" stroke-width="0.9"/>
<circle cx="440.1" cy="308.0" r="1.55" fill="none" stroke="#111" stroke-width="0.9"/>
<path d="M402.2,312.3L403.9,315.4L400.5,315.4Z" fill="none" stroke="#111" stroke-width="0.85"/>
<circle cx="414.6" cy="316.3" r="1.55" fill="none" stroke="#111" stroke-width="0.9"/>
<circle cx="403.3" cy="293.1" r="1.55" fill="none" stroke="#111" stroke-width="0.9"/>
<path d="M420.4,297.4L422.1,300.5L418.7,300.5Z" fill="none" stroke="#111" stroke-width="0.85"/>
<circle cx="406.6" cy="311.8" r="1.55" fill="none" stroke="#111" stroke-width="0.9"/>
<circle cx="396.1" cy="305.8" r="1.55" fill="none" stroke="#111" stroke-width="0.9"/>
<path d="M395.9,314.2L397.6,317.3L394.2,317.3Z" fill="none" stroke="#111" stroke-width="0.85"/>
<circle cx="424.6" cy="305.4" r="1.55" fill="none" stroke="#111" stroke-width="0.9"/>
<circle cx="409.6" cy="300.5" r="1.55" fill="none" stroke="#111" stroke-width="0.9"/>
<circle cx="415.7" cy="309.4" r="1.55" fill="none" stroke="#111" stroke-width="0.9"/>
<circle cx="416.4" cy="285.9" r="1.55" fill="none" stroke="#111" stroke-width="0.9"/>
<circle cx="419.0" cy="293.7" r="1.55" fill="none" stroke="#111" stroke-width="0.9"/>
<path d="M473.0,307.8L474.7,310.8L471.3,310.8Z" fill="none" stroke="#111" stroke-width="0.85"/>
<path d="M463.1,299.7L464.8,302.7L461.4,302.7Z" fill="none" stroke="#111" stroke-width="0.85"/>
<circle cx="461.8" cy="301.1" r="1.55" fill="none" stroke="#111" stroke-width="0.9"/>
<circle cx="464.3" cy="299.9" r="1.55" fill="none" stroke="#111" stroke-width="0.9"/>
<circle cx="450.6" cy="315.9" r="1.55" fill="none" stroke="#111" stroke-width="0.9"/>
<circle cx="464.4" cy="300.2" r="1.55" fill="none" stroke="#111" stroke-width="0.9"/>
<path d="M460.1,319.1L461.8,322.1L458.4,322.1Z" fill="none" stroke="#111" stroke-width="0.85"/>
<circle cx="475.4" cy="321.9" r="1.55" fill="none" stroke="#111" stroke-width="0.9"/>
<circle cx="474.1" cy="303.5" r="1.55" fill="none" stroke="#111" stroke-width="0.9"/>
<circle cx="463.7" cy="321.0" r="1.55" fill="none" stroke="#111" stroke-width="0.9"/>
<circle cx="453.3" cy="317.1" r="1.55" fill="none" stroke="#111" stroke-width="0.9"/>
<circle cx="450.1" cy="307.1" r="1.55" fill="none" stroke="#111" stroke-width="0.9"/>
<path d="M453.1,317.8L454.8,320.9L451.4,320.9Z" fill="none" stroke="#111" stroke-width="0.85"/>
<circle cx="474.1" cy="302.3" r="1.55" fill="none" stroke="#111" stroke-width="0.9"/>
<path d="M477.4,302.0L479.1,305.1L475.7,305.1Z" fill="none" stroke="#111" stroke-width="0.85"/>
<path d="M464.2,304.6L465.9,307.6L462.5,307.6Z" fill="none" stroke="#111" stroke-width="0.85"/>
<circle cx="453.8" cy="302.7" r="1.55" fill="none" stroke="#111" stroke-width="0.9"/>
<path d="M469.7,317.8L471.4,320.9L468.0,320.9Z" fill="none" stroke="#111" stroke-width="0.85"/>
<circle cx="473.1" cy="301.6" r="1.55" fill="none" stroke="#111" stroke-width="0.9"/>
<circle cx="468.4" cy="307.3" r="1.55" fill="none" stroke="#111" stroke-width="0.9"/>
<circle cx="465.8" cy="312.3" r="1.55" fill="none" stroke="#111" stroke-width="0.9"/>
<circle cx="451.3" cy="321.8" r="1.55" fill="none" stroke="#111" stroke-width="0.9"/>
<path d="M460.6,315.6L462.3,318.6L458.9,318.6Z" fill="none" stroke="#111" stroke-width="0.85"/>
<circle cx="479.7" cy="312.3" r="1.55" fill="none" stroke="#111" stroke-width="0.9"/>
<path d="M472.5,307.4L474.2,310.4L470.8,310.4Z" fill="none" stroke="#111" stroke-width="0.85"/>
<circle cx="471.8" cy="300.1" r="1.55" fill="none" stroke="#111" stroke-width="0.9"/>
<circle cx="456.1" cy="313.7" r="1.55" fill="none" stroke="#111" stroke-width="0.9"/>
<circle cx="466.7" cy="314.3" r="1.55" fill="none" stroke="#111" stroke-width="0.9"/>
<path d="M448.1,298.0L449.8,301.1L446.4,301.1Z" fill="none" stroke="#111" stroke-width="0.85"/>
<circle cx="467.7" cy="308.9" r="1.55" fill="none" stroke="#111" stroke-width="0.9"/>
<path d="M476.7,300.3L478.4,303.3L475.0,303.3Z" fill="none" stroke="#111" stroke-width="0.85"/>
<path d="M468.9,297.7L470.6,300.8L467.2,300.8Z" fill="none" stroke="#111" stroke-width="0.85"/>
<circle cx="459.4" cy="301.4" r="1.55" fill="none" stroke="#111" stroke-width="0.9"/>
<circle cx="455.2" cy="312.4" r="1.55" fill="none" stroke="#111" stroke-width="0.9"/>
<circle cx="454.5" cy="313.4" r="1.55" fill="none" stroke="#111" stroke-width="0.9"/>
<path d="M452.3,318.8L454.0,321.8L450.6,321.8Z" fill="none" stroke="#111" stroke-width="0.85"/>
<circle cx="452.8" cy="301.2" r="1.55" fill="none" stroke="#111" stroke-width="0.9"/>
<circle cx="475.9" cy="317.0" r="1.55" fill="none" stroke="#111" stroke-width="0.9"/>
<circle cx="456.5" cy="299.3" r="1.55" fill="none" stroke="#111" stroke-width="0.9"/>
<circle cx="466.0" cy="307.1" r="1.55" fill="none" stroke="#111" stroke-width="0.9"/>
<circle cx="462.2" cy="320.6" r="1.55" fill="none" stroke="#111" stroke-width="0.9"/>
<path d="M456.0,318.0L457.7,321.1L454.3,321.1Z" fill="none" stroke="#111" stroke-width="0.85"/>
<path d="M465.0,306.6L466.7,309.6L463.3,309.6Z" fill="none" stroke="#111" stroke-width="0.85"/>
<path d="M449.9,315.1L451.6,318.2L448.2,318.2Z" fill="none" stroke="#111" stroke-width="0.85"/>
<path d="M465.6,318.9L467.3,321.9L463.9,321.9Z" fill="none" stroke="#111" stroke-width="0.85"/>
<circle cx="455.0" cy="312.2" r="1.55" fill="none" stroke="#111" stroke-width="0.9"/>
<path d="M466.0,314.5L467.7,317.5L464.3,317.5Z" fill="none" stroke="#111" stroke-width="0.85"/>
<path d="M457.7,304.2L459.4,307.3L456.0,307.3Z" fill="none" stroke="#111" stroke-width="0.85"/>
<circle cx="472.2" cy="315.7" r="1.55" fill="none" stroke="#111" stroke-width="0.9"/>
<circle cx="450.2" cy="316.9" r="1.55" fill="none" stroke="#111" stroke-width="0.9"/>
<circle cx="461.6" cy="314.8" r="1.55" fill="none" stroke="#111" stroke-width="0.9"/>
<path d="M455.6,300.3L457.3,303.4L453.9,303.4Z" fill="none" stroke="#111" stroke-width="0.85"/>
<circle cx="451.0" cy="306.7" r="1.55" fill="none" stroke="#111" stroke-width="0.9"/>
<circle cx="467.4" cy="316.9" r="1.55" fill="none" stroke="#111" stroke-width="0.9"/>
<circle cx="456.6" cy="311.1" r="1.55" fill="none" stroke="#111" stroke-width="0.9"/>
<path d="M469.7,308.7L471.4,311.7L468.0,311.7Z" fill="none" stroke="#111" stroke-width="0.85"/>
<path d="M466.1,317.5L467.8,320.6L464.4,320.6Z" fill="none" stroke="#111" stroke-width="0.85"/>
<path d="M472.0,298.5L473.7,301.6L470.3,301.6Z" fill="none" stroke="#111" stroke-width="0.85"/>
<circle cx="455.9" cy="314.9" r="1.55" fill="none" stroke="#111" stroke-width="0.9"/>
<circle cx="468.7" cy="306.5" r="1.55" fill="none" stroke="#111" stroke-width="0.9"/>
<circle cx="458.2" cy="304.8" r="1.55" fill="none" stroke="#111" stroke-width="0.9"/>
<circle cx="465.8" cy="313.9" r="1.55" fill="none" stroke="#111" stroke-width="0.9"/>
<circle cx="474.5" cy="309.4" r="1.55" fill="none" stroke="#111" stroke-width="0.9"/>
<circle cx="467.4" cy="317.2" r="1.55" fill="none" stroke="#111" stroke-width="0.9"/>
<circle cx="468.1" cy="311.4" r="1.55" fill="none" stroke="#111" stroke-width="0.9"/>
<path d="M455.3,310.7L457.0,313.7L453.6,313.7Z" fill="none" stroke="#111" stroke-width="0.85"/>
<path d="M472.8,301.1L474.5,304.2L471.1,304.2Z" fill="none" stroke="#111" stroke-width="0.85"/>
<circle cx="452.7" cy="318.6" r="1.55" fill="none" stroke="#111" stroke-width="0.9"/>
<path d="M453.5,298.8L455.2,301.8L451.8,301.8Z" fill="none" stroke="#111" stroke-width="0.85"/>
<circle cx="467.3" cy="312.7" r="1.55" fill="none" stroke="#111" stroke-width="0.9"/>
<line x1="343.6" y1="289.1" x2="503.5" y2="308.5" stroke="#111" stroke-width="1.3"/>
<line x1="343.6" y1="293.5" x2="503.5" y2="310" stroke="#111" stroke-width="1.3" stroke-dasharray="3.2,1.5"/>
<line x1="410" y1="217.7" x2="431.5" y2="217.7" stroke="#111" stroke-width="1.35"/>
<circle cx="420.8" cy="217.7" r="2.5" fill="white" stroke="#111" stroke-width="1.5"/>
<line x1="410" y1="228.5" x2="431.5" y2="228.5" stroke="#111" stroke-width="1.35" stroke-dasharray="2.6,2.6"/>
<path d="M420.8,224.2 L423.7,230.1 L417.9,230.1 Z" fill="#333" stroke="#111" stroke-width="1"/>
<text x="433.0" y="219.3" font-size="6.7" text-anchor="start" font-weight="normal" style="stroke-width:0.12px">Risk: Std/high (p = 0.00006)</text>
<text x="433.0" y="229.3" font-size="6.7" text-anchor="start" font-weight="normal" style="stroke-width:0.12px">Risk: Low (p = 0.002)</text>

</svg>
</body></html>
